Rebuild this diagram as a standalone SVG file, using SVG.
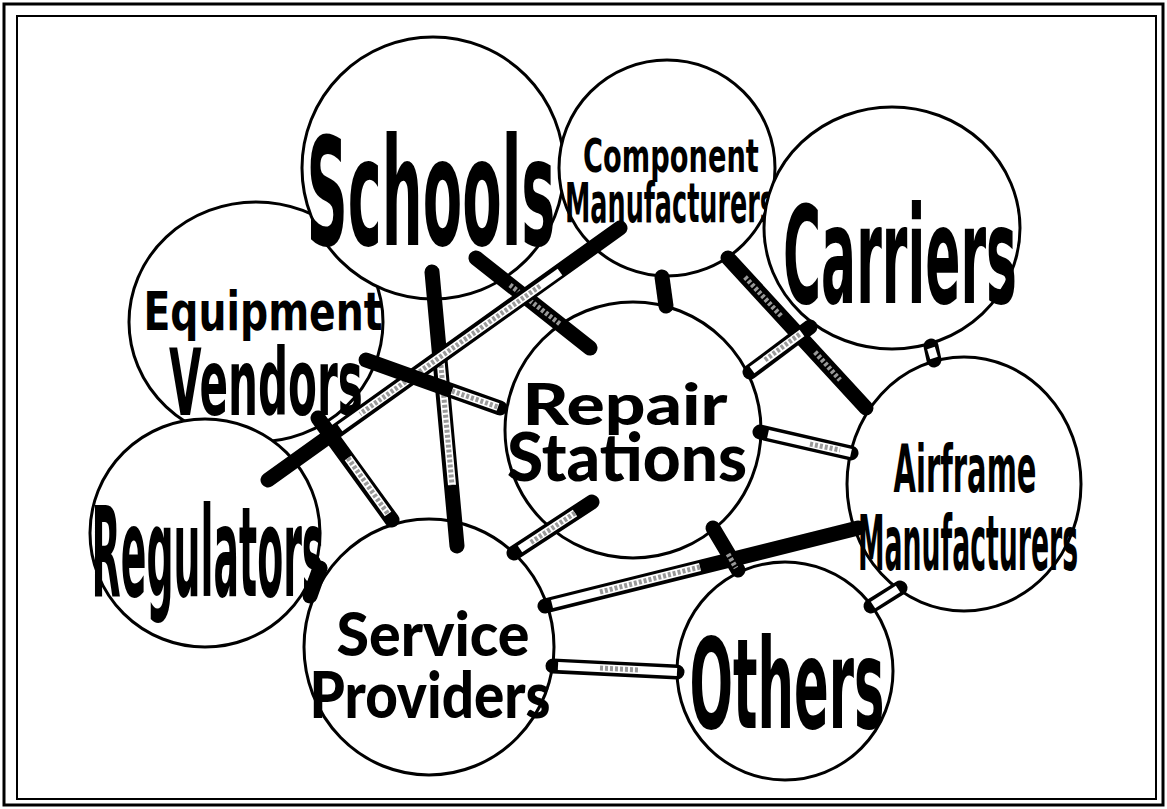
<svg xmlns="http://www.w3.org/2000/svg" width="1167" height="809" viewBox="0 0 1167 809">
<style>
.node{fill:#fff;stroke:#000;stroke-width:3}
.lbl{font-family:"DejaVu Sans","Liberation Sans",sans-serif;font-weight:bold;fill:#000;text-anchor:middle}
.lbl2{font-family:Lato,"Open Sans",sans-serif;font-weight:900;fill:#000;text-anchor:middle}
.bo{stroke:#000;stroke-width:15;stroke-linecap:round;fill:none}
.bi{stroke:#fff;stroke-width:8;fill:none}
.bg{stroke:#999;stroke-width:5;stroke-dasharray:3 2;fill:none}
</style>
<rect x="0" y="0" width="1167" height="809" fill="#fff"/>
<rect x="4" y="4" width="1159" height="801" fill="none" stroke="#000" stroke-width="3"/>
<rect x="17" y="16" width="1139" height="783" fill="none" stroke="#000" stroke-width="2"/>

<g id="equipment-vendors">
<ellipse class="node" cx="256" cy="322" rx="127" ry="120"/>
<text class="lbl" transform="translate(266,0) scale(0.458,1)"><tspan x="-6.5" y="330" font-size="54" textLength="522" lengthAdjust="spacingAndGlyphs">Equipment</tspan><tspan x="0" y="415" font-size="92">Vendors</tspan></text>
</g>
<g id="regulators">
<ellipse class="node" cx="205" cy="533" rx="115" ry="114"/>
<text class="lbl" transform="translate(208,596) scale(0.303,1)" font-size="125">Regulators</text>
</g>
<g id="schools">
<circle class="node" cx="433" cy="168" r="131"/>
<text class="lbl" transform="translate(431,245) scale(0.383,1)" font-size="150">Schools</text>
</g>
<g id="component-manufacturers">
<circle class="node" cx="667" cy="168" r="108"/>
<text class="lbl" transform="translate(670,0) scale(0.445,1)"><tspan x="2.2" y="172" font-size="46" textLength="395" lengthAdjust="spacingAndGlyphs">Component</tspan><tspan x="0" y="222" font-size="56" textLength="472" lengthAdjust="spacingAndGlyphs">Manufacturers</tspan></text>
</g>
<g id="carriers">
<ellipse class="node" cx="892" cy="228" rx="128" ry="121"/>
<text class="lbl" transform="translate(900,303) scale(0.385,1)" font-size="135">Carriers</text>
</g>
<g id="repair-stations">
<circle class="node" cx="633" cy="430" r="128"/>
<text class="lbl2"><tspan x="625" y="425" font-size="58" textLength="205" lengthAdjust="spacingAndGlyphs">Repair</tspan><tspan x="627" y="481" font-size="66" textLength="240" lengthAdjust="spacingAndGlyphs">Stations</tspan></text>
</g>
<g id="airframe-manufacturers">
<ellipse class="node" cx="964" cy="484" rx="117" ry="127"/>
<text class="lbl" transform="translate(968,0) scale(0.351,1)"><tspan x="-8.5" y="492" font-size="66" textLength="407" lengthAdjust="spacingAndGlyphs">Airframe</tspan><tspan x="0" y="570" font-size="76" textLength="627" lengthAdjust="spacingAndGlyphs">Manufacturers</tspan></text>
</g>
<g id="service-providers">
<ellipse class="node" cx="429" cy="647" rx="125" ry="128"/>
<text class="lbl2"><tspan x="433" y="656" font-size="60" textLength="193" lengthAdjust="spacingAndGlyphs">Service</tspan><tspan x="430" y="718" font-size="64" textLength="241" lengthAdjust="spacingAndGlyphs">Providers</tspan></text>
</g>
<g id="others">
<ellipse class="node" cx="785" cy="671" rx="108" ry="109"/>
<text class="lbl" transform="translate(787,728) scale(0.41,1)" font-size="125">Others</text>
</g>

<g id="connectors">
<!-- Schools - Service Providers -->
<line class="bo" x1="432" y1="272" x2="457" y2="546"/>
<line class="bi" x1="440" y1="355" x2="452" y2="485"/>
<line class="bg" x1="440" y1="355" x2="452" y2="485"/>
<!-- Schools - Repair Stations -->
<line class="bo" x1="476" y1="258" x2="590" y2="348"/>
<line class="bg" x1="510" y1="285" x2="560" y2="324"/>
<!-- Component - Regulators -->
<line class="bo" x1="620" y1="228" x2="268" y2="480"/>
<line class="bi" x1="560" y1="272" x2="340" y2="428"/>
<line class="bg" x1="540" y1="286" x2="360" y2="414"/>
<!-- Equipment - Repair -->
<line class="bo" x1="366" y1="360" x2="500" y2="408"/>
<line class="bi" x1="452" y1="391" x2="498" y2="407"/>
<line class="bg" x1="452" y1="391" x2="498" y2="407"/>
<!-- Equipment - Service -->
<line class="bo" x1="318" y1="418" x2="392" y2="520"/>
<line class="bi" x1="348" y1="458" x2="388" y2="514"/>
<line class="bg" x1="348" y1="458" x2="388" y2="514"/>
<!-- Regulators - Service -->
<line class="bo" x1="320" y1="568" x2="310" y2="596"/>
<!-- Repair - Service -->
<line class="bo" x1="592" y1="502" x2="514" y2="553"/>
<line class="bi" x1="575" y1="513" x2="520" y2="549"/>
<line class="bg" x1="575" y1="513" x2="530" y2="543"/>
<!-- Service - Airframe -->
<line class="bo" x1="545" y1="606" x2="858" y2="528"/>
<line class="bi" x1="552" y1="604" x2="700" y2="567"/>
<line class="bg" x1="600" y1="592" x2="700" y2="567"/>
<!-- Service - Others -->
<line class="bo" x1="553" y1="666" x2="677" y2="672"/>
<line class="bi" x1="558" y1="666" x2="677" y2="672"/>
<line class="bg" x1="600" y1="668" x2="640" y2="670"/>
<!-- Repair - Others -->
<line class="bo" x1="713" y1="528" x2="738" y2="570"/>
<line class="bg" x1="728" y1="554" x2="736" y2="568"/>
<!-- Repair - Airframe -->
<line class="bo" x1="760" y1="432" x2="851" y2="453"/>
<line class="bi" x1="768" y1="434" x2="851" y2="453"/>
<line class="bg" x1="810" y1="444" x2="840" y2="450"/>
<!-- Airframe - Others -->
<line class="bo" x1="871" y1="606" x2="900" y2="588" stroke-width="12"/>
<line class="bi" x1="873" y1="605" x2="898" y2="589" stroke-width="6"/>
<!-- Component - Repair -->
<line class="bo" x1="662" y1="277" x2="666" y2="306" stroke-width="17"/>
<!-- Component - Airframe -->
<line class="bo" x1="728" y1="258" x2="866" y2="408"/>
<line class="bg" x1="745" y1="277" x2="782" y2="317"/>
<line class="bg" x1="815" y1="352" x2="840" y2="380"/>
<!-- Repair - Carriers -->
<line class="bo" x1="750" y1="372" x2="810" y2="327"/>
<line class="bi" x1="752" y1="370" x2="802" y2="333"/>
<line class="bg" x1="765" y1="360" x2="800" y2="334"/>
<!-- Carriers - Airframe -->
<line class="bo" x1="931" y1="346" x2="934" y2="360" stroke-width="11"/>
<line class="bi" x1="931" y1="348" x2="934" y2="358" stroke-width="5"/>
</g>
</svg>
